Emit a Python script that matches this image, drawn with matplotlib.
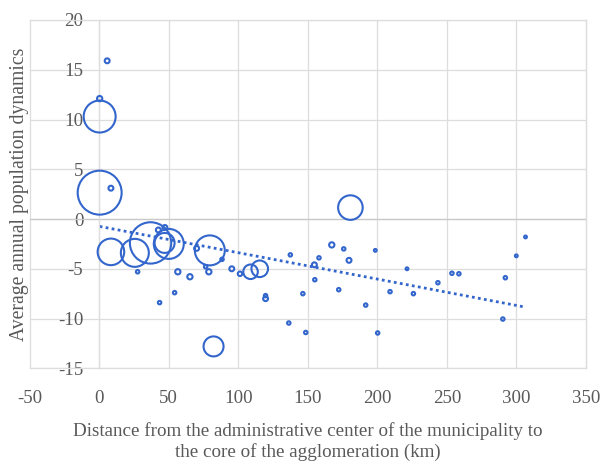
import numpy as np
import matplotlib
matplotlib.use("Agg")
import matplotlib.pyplot as plt
from matplotlib.ticker import FuncFormatter

# ---- data ----
distance_km = [0.3, 5.7, 0.3, 0.3, 8.4, 180.6, 8.4, 25.6, 36.9, 50.0,
               47.0, 42.5, 47.2, 27.6, 43.4, 56.5, 54.2, 65.2, 70.0, 79.5,
               78.8, 76.5, 88.3, 95.3, 101.2, 108.8, 115.4, 119.6, 119.6, 82.2,
               136.3, 137.4, 146.4, 148.5, 154.7, 155.0, 158.0, 167.2, 172.2, 175.8,
               179.6, 191.6, 200.2, 198.5, 221.3, 209.1, 225.9, 243.5, 253.6, 258.6,
               292.0, 290.2, 299.9, 306.5]
pop_dynamics = [12.1, 15.9, 10.3, 2.65, 3.1, 1.15, -3.3, -3.4, -2.4, -2.5,
                -2.4, -1.1, -0.85, -5.3, -8.4, -5.3, -7.4, -5.8, -2.95, -3.15,
                -5.3, -4.8, -4.05, -5.0, -5.5, -5.3, -5.0, -7.7, -8.0, -12.8,
                -10.45, -3.6, -7.5, -11.4, -4.6, -6.1, -3.9, -2.6, -7.1, -3.0,
                -4.15, -8.65, -11.45, -3.15, -5.0, -7.3, -7.5, -6.4, -5.45, -5.5,
                -5.9, -10.05, -3.7, -1.8]
population = [7, 6, 256, 484, 6, 151, 177, 196, 428, 225,
              100, 6, 6, 3, 3, 7, 3, 7, 6, 225,
              7, 3, 3, 6, 5, 53, 69, 3, 6, 100,
              3, 3, 3, 3, 6, 3, 3, 7, 3, 3,
              6, 3, 3, 2, 2, 3, 3, 3, 3, 3,
              3, 3, 2, 2]
x_ticks = [-50, 0, 50, 100, 150, 200, 250, 300, 350]
y_ticks = [-15, -10, -5, 0, 5, 10, 15, 20]
x_title = "Distance from the administrative center of the municipality to\nthe core of the agglomeration (km)"
y_title = "Average annual population dynamics"

# ---- style ----
BLUE = "#3366CC"
GRID = "#DDDDDD"
AXIS = "#C8C8C8"
TXT = "#595959"
plt.rcParams["font.family"] = ["Liberation Serif", "DejaVu Serif"]

W, H = 601, 463
fig = plt.figure(figsize=(W / 100, H / 100), dpi=100)
L, R, T, B = 29.7, 586.0, 20.0, 368.3
ax = fig.add_axes([L / W, 1 - B / H, (R - L) / W, (B - T) / H])

x = np.array(distance_km)
y = np.array(pop_dynamics)
s = np.array(population) * 2.07  # marker area scaled from bubble size

ax.scatter(x, y, s=s, facecolors="none", edgecolors=BLUE, linewidths=1.5, zorder=3)

# linear trend line
k, b0 = np.polyfit(x, y, 1)
xt = np.array([x.min(), x.max()])
ax.plot(xt, k * xt + b0, linestyle=(0, (1, 1.2)), color=BLUE, linewidth=2.0, zorder=2)

ax.set_xlim(-50, 350)
ax.set_ylim(-15, 20)
ax.set_xticks(x_ticks)
ax.set_yticks(y_ticks)
fmt = FuncFormatter(lambda v, p: f"{int(v)}".replace("\u2212", "-"))
ax.xaxis.set_major_formatter(fmt)
ax.yaxis.set_major_formatter(fmt)

ax.grid(True, color=GRID, linewidth=0.9, zorder=0)
for g in ax.get_xgridlines() + ax.get_ygridlines():
    g.set_clip_on(False)
ax.set_axisbelow(True)
for sp in ax.spines.values():
    sp.set_color(GRID)
    sp.set_linewidth(0.9)
ax.spines["left"].set_position(("data", 0))
ax.axhline(0, color=AXIS, linewidth=0.9, zorder=1)

ax.tick_params(axis="both", length=0, labelsize=13.6, labelcolor=TXT)
ax.tick_params(axis="y", pad=11.5)
ax.tick_params(axis="x", pad=15.5)

ax.set_xlabel(x_title, fontsize=13.7, color=TXT, labelpad=11)
ax.set_ylabel(y_title, fontsize=14.2, color=TXT)
ax.yaxis.set_label_coords(-0.002, 0.5)

fig.savefig("out.png", dpi=100)
